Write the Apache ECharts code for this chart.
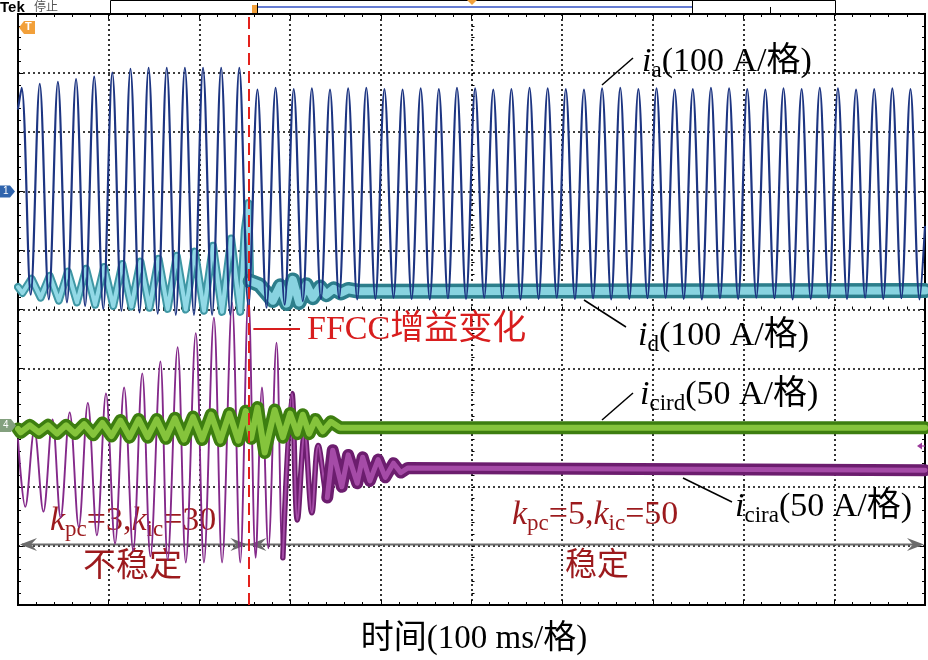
<!DOCTYPE html>
<html><head><meta charset="utf-8">
<script src="https://cdn.jsdelivr.net/npm/echarts@6/dist/echarts.min.js"></script>
<style>html,body{margin:0;padding:0;background:#fff;}#c{width:928px;height:660px;}</style>
</head><body><div id="c"></div>
<script>
// ================= DATA =================
// time axis: 0..1000 ms (100 ms/格), gain change instant
const CHANGE_T = 254;
// ---- i_a (A), 100 A/格 : extremes every half period (peaks at 4+20k ms, troughs at 14+20k ms)
const IA_PERIOD = 20, IA_PHASE = 4;
const iaStart = 140, iaEnd = -60;
const iaPeaks = [175,182,185,190,194,201,207,209,209,209,209,209,209,
  172,175,173,174,172,174,175,173,172,174,
  173,175,174,172,173,175,174,173,172,174,
  175,173,174,172,173,175,174,173,172,174,
  173,175,174,172,173,174,173];
const iaTroughs = [-175,-183,-188,-194,-199,-202,-205,-207,-209,-209,-209,-209,
  -195,-197,-192,-186,
  -182,-181,-183,-182,-180,-182,-183,-181,-182,-180,
  -181,-183,-182,-180,-182,-181,-183,-182,-181,-180,
  -182,-183,-181,-182,-180,-181,-183,-182,-181,-182,
  -180,-182,-181,-183];
// ---- i_d (A), 100 A/格
const idTimes = [0,5,15,25,35,45,55,65,75,85,95,105,115,125,135,145,155,165,175,185,195,205,215,225,235,245,
  250,254,256,266,281,289,296,303,310,318,325,333,340,348,356,364,375,1000];
const idValues = [-162,-172,-148,-180,-143,-185,-136,-188,-131,-192,-128,-194,-123,-195,-119,-197,-114,-199,-109,-200,-102,-202,-92,-204,-80,-204,
  -66,-20,-152,-158,-185,-160,-190,-150,-188,-158,-180,-162,-175,-165,-172,-166,-169,-168];
// ---- i_cird (A), 50 A/格
const cirdTimes = [0,3,13,23,33,43,53,63,73,83,93,103,113,123,133,143,153,163,173,183,193,203,213,223,233,243,
  251,257,264,272,283,292,300,308,314,321,328,336,345,355,1000];
const cirdValues = [-1,-4,2,-4,2,-5,2,-5,3,-6,4,-7,6,-8,7,-8,7,-9,8,-10,9,-10,11,-11,12,-11,
  14,-9,17,-21,15,-8,12,-5,11,-5,7,-3,5,0,0];
// ---- i_cira (A), 50 A/格
const ciraTimes = [0,8,18,28,38,47,57,67,77,87,97,107,117,127,137,146,157,165,176,185,196,205,216,225,236,245,254,
  262,269,276,285,292,302,308,316,324,331,341,347,357,364,374,380,388,397,405,414,422,430,1000];
const ciraValues = [-10,-67,-2,-71,7,-76,13,-84,21,-91,29,-98,34,-104,46,-109,56,-112,68,-114,80,-114,93,-114,106,-114,111,
  -110,34,-102,72,-110,29,-78,-4,-72,-15,-59,-19,-50,-23,-47,-25,-45,-27,-42,-30,-38,-34,-36];
// channel scales (A per division) and the division where each channel's zero sits (counted from top)
const CH1_SCALE = 100, CH1_ZERO_DIV = 3;   // i_a, i_d
const CH4_SCALE = 50,  CH4_ZERO_DIV = 7;   // i_cird, i_cira
const DIVS_Y = 10;

// ================= BUILD =================
const FF = '"Liberation Serif","Noto Sans CJK SC",serif';
const chart = echarts.init(document.getElementById('c'), null, {renderer:'canvas', width:928, height:660});

const iaData = [[0, iaStart]];
for (let k = 0; k < iaPeaks.length; k++) {
  iaData.push([IA_PHASE + IA_PERIOD * k, iaPeaks[k]]);
  iaData.push([IA_PHASE + IA_PERIOD * k + IA_PERIOD / 2, iaTroughs[k]]);
}
iaData.push([1000, iaEnd]);
const pairs = (ts, vs) => ts.map((t, i) => [t, vs[i]]);
const seg = (d, a, b) => d.filter(p => p[0] >= a && p[0] <= b);
const idData = pairs(idTimes, idValues);
const cirdData = pairs(cirdTimes, cirdValues);
const ciraData = pairs(ciraTimes, ciraValues);

function line(data, yIdx, color, width, extra) {
  return Object.assign({
    type:'line', data, xAxisIndex:3, yAxisIndex:yIdx, showSymbol:false, symbol:'none',
    silent:true, animation:false, clip:true,
    lineStyle:{color, width, join:'round', cap:'round'}
  }, extra || {});
}

const gridLine = {show:true, lineStyle:{color:'#000', width:1.6, type:[2,3]}};
const tickStyle = {color:'#000', width:1};
function graticuleAxis(pos, opts) {
  return Object.assign({
    type:'value', min:-5, max:5, interval:1, position:pos,
    axisLine:{show:false, onZero:false},
    axisTick:{show:true, inside:true, length:5, lineStyle:tickStyle},
    minorTick:{show:true, splitNumber:5, length:3, lineStyle:tickStyle},
    axisLabel:{show:false}, splitLine:{show:false}
  }, opts || {});
}

const option = {
  backgroundColor:'#fff',
  animation:false,
  grid:{left:18, right:3, top:14, bottom:55, show:true, borderColor:'#000', borderWidth:2},
  xAxis:[
    graticuleAxis('bottom', {splitLine:gridLine}),
    graticuleAxis('top'),
    graticuleAxis('bottom', {axisLine:{show:false, onZero:true, onZeroAxisIndex:0}, axisTick:{show:true, inside:true, length:3, lineStyle:tickStyle}}),
    {type:'value', min:0, max:1000, show:false}
  ],
  yAxis:[
    graticuleAxis('left', {splitLine:gridLine}),
    graticuleAxis('right'),
    graticuleAxis('left', {axisLine:{show:false, onZero:true, onZeroAxisIndex:0}, axisTick:{show:true, inside:true, length:3, lineStyle:tickStyle}}),
    {type:'value', min:-CH1_SCALE*(DIVS_Y-CH1_ZERO_DIV), max:CH1_SCALE*CH1_ZERO_DIV, show:false},
    {type:'value', min:-CH4_SCALE*(DIVS_Y-CH4_ZERO_DIV), max:CH4_SCALE*CH4_ZERO_DIV, show:false}
  ],
  series:[
    line(ciraData, 4, '#84298a', 1.9, {smooth:0.35}),
    line(seg(ciraData, 292, 350), 4, '#6c1d6e', 5.5, {smooth:0.35}),
    line(seg(ciraData, 292, 350), 4, '#a54ba7', 2, {smooth:0.35}),
    line(seg(ciraData, 341, 1000), 4, '#6c1d6e', 12),
    line(seg(ciraData, 341, 1000), 4, '#a54ba7', 5),
    line(cirdData, 4, '#3d7e10', 13),
    line(cirdData, 4, '#85c43c', 6),
    line(seg(idData, 0, 256), 3, '#3f97a4', 8),
    line(seg(idData, 0, 256), 3, '#92d9e6', 4),
    line(seg(idData, 256, 1000), 3, '#2c7e8b', 15),
    line(seg(idData, 256, 1000), 3, '#88d3e0', 8),
    line(iaData, 3, '#1d3582', 2.2, {smooth:0.35,
      markLine:{silent:true, symbol:['none','none'], label:{show:false}, animation:false,
        lineStyle:{color:'#e3211c', width:2, type:[12,6]}, data:[{xAxis:CHANGE_T}]}
    })
  ]
};
chart.setOption(option);

// ================= ANNOTATIONS =================
function rich(x, y, segs, color, size) {
  const text = segs.map(s => '{' + s[0] + '|' + s[1] + '}').join('');
  const base = {fontSize:size, fontFamily:FF, fill:color, lineHeight:38, verticalAlign:'bottom', padding:[0,0,3,0]};
  return {type:'text', x, y, z:1, silent:true, style:{text, rich:{
    n: base,
    i: Object.assign({}, base, {fontStyle:'italic'}),
    s: {fontSize:Math.round(size*0.68), fontFamily:FF, fill:color, lineHeight:38, verticalAlign:'bottom'}
  }}};
}
function seg2(x1, y1, x2, y2, color, w, z) {
  return {type:'line', z:z||1, silent:true, shape:{x1, y1, x2, y2}, style:{stroke:color, lineWidth:w}};
}
function plain(x, y, text, color, size, extra) {
  return {type:'text', x, y, z:1, silent:true, style:Object.assign({text, fill:color, fontSize:size, fontFamily:FF}, extra||{})};
}
function head(tipX, y, dir) {
  const L = 17, H = 6.5, N = 11;
  return {type:'polygon', z:3, silent:true, shape:{points:[[tipX,y],[tipX-dir*L,y-H],[tipX-dir*N,y],[tipX-dir*L,y+H]]}, style:{fill:'#6b6b6b'}};
}

const xL = chart.convertToPixel({xAxisIndex:3}, 0);
const xR = chart.convertToPixel({xAxisIndex:3}, 1000);
const xC = chart.convertToPixel({xAxisIndex:3}, CHANGE_T);
const yArrow = chart.convertToPixel({yAxisIndex:0}, -4) - 1.5;

const DARKRED = '#9c1a1d', RED = '#d81e1e';
const g = [
  // header bar
  {type:'text', x:0, y:0, z:5, silent:true, style:{text:'Tek', fontSize:15, fontWeight:'bold', fontFamily:'"Liberation Sans",Arial', fill:'#000'}},
  {type:'text', x:34, y:0, z:5, silent:true, style:{text:'停止', fontSize:12, fontFamily:'"Noto Sans CJK SC"', fill:'#555'}},
  {type:'rect', z:5, silent:true, shape:{x:110.5, y:0.5, width:725, height:13.5}, style:{fill:'none', stroke:'#000', lineWidth:1}},
  seg2(258, 7, 692, 7, '#3552c4', 1.5, 5),
  seg2(692.5, 0, 692.5, 14, '#000', 1, 5),
  seg2(770.5, 7, 770.5, 14, '#000', 1, 5),
  seg2(257.5, 3, 257.5, 14, '#000', 1, 5),
  {type:'polygon', z:6, silent:true, shape:{points:[[252,5],[257,5],[257,13],[252,13]]}, style:{fill:'#f2a03a'}},
  {type:'polygon', z:6, silent:true, shape:{points:[[467,0],[477,0],[472,5]]}, style:{fill:'#f2a03a'}},
  // channel markers
  {type:'polygon', z:6, silent:true, shape:{points:[[35,21],[24,21],[19,27.5],[24,34],[35,34]]}, style:{fill:'#f2a03a'}},
  {type:'text', z:7, x:25, y:21.5, silent:true, style:{text:'T', fill:'#fff', fontSize:11, fontWeight:'bold', fontFamily:'"Liberation Sans"'}},
  {type:'polygon', z:6, silent:true, shape:{points:[[0,185.5],[10,185.5],[15,191.5],[10,197.5],[0,197.5]]}, style:{fill:'#2f64ad'}},
  {type:'text', z:7, x:3, y:186, silent:true, style:{text:'1', fill:'#fff', fontSize:10, fontFamily:'"Liberation Sans"'}},
  {type:'polygon', z:6, silent:true, shape:{points:[[0,419],[11,419],[16,425.5],[11,432],[0,432]]}, style:{fill:'#83a07e'}},
  {type:'text', z:7, x:3, y:420, silent:true, style:{text:'4', fill:'#fff', fontSize:10, fontFamily:'"Liberation Sans"'}},
  {type:'polygon', z:6, silent:true, shape:{points:[[917,446],[922,442.5],[922,449.5]]}, style:{fill:'#9b3a9b'}},
  seg2(920, 446, 925, 446, '#9b3a9b', 1.2, 6),
  // channel labels
  seg2(602, 85, 633, 58, '#000', 1.5),
  rich(642, 44, [['i','i'],['s','a'],['n','(100 A/格)']], '#000', 34),
  seg2(584, 300, 626, 327, '#000', 1.5),
  rich(638, 318, [['i','i'],['s','d'],['n','(100 A/格)']], '#000', 34),
  seg2(602, 420, 633, 393, '#000', 1.5),
  rich(640, 377, [['i','i'],['s','cird'],['n','(50 A/格)']], '#000', 34),
  seg2(683, 478, 732, 502, '#000', 1.5),
  rich(735, 489, [['i','i'],['s','cira'],['n','(50 A/格)']], '#000', 34),
  // FFCC change label
  seg2(xC + 5, 329, 300, 329, RED, 2),
  plain(307, 313, 'FFCC增益变化', RED, 34),
  // controller gains and stability
  rich(50, 503, [['i','k'],['s','pc'],['n','=3,'],['i','k'],['s','ic'],['n','=30']], DARKRED, 34),
  rich(512, 497, [['i','k'],['s','pc'],['n','=5,'],['i','k'],['s','ic'],['n','=50']], DARKRED, 34),
  plain(83, 551, '不稳定', DARKRED, 33),
  plain(565, 551, '稳定', DARKRED, 32),
  // arrows
  seg2(xL + 4, yArrow, xR - 4, yArrow, '#6b6b6b', 2, 3),
  head(xL + 2, yArrow, -1), head(xC - 1, yArrow, 1),
  head(xC + 1, yArrow, -1), head(xR - 1, yArrow, 1),
  // x-axis title
  plain(474, 623, '时间(100 ms/格)', '#000', 33, {align:'center'})
];
chart.setOption({graphic:{elements:g}});
</script>
</body></html>
